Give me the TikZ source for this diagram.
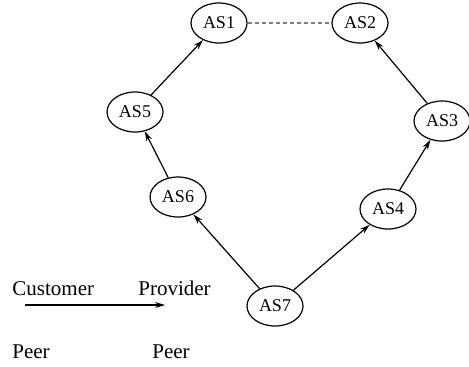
\documentclass[tikz,border=0pt]{standalone}
\usepackage{fontspec}
\setmainfont{Liberation Serif}
\usetikzlibrary{shapes.geometric,arrows.meta}
\tikzset{
    as/.style={ellipse, draw, minimum width=28pt, minimum height=20pt,
    	inner sep=0pt, line width=.6pt, font=\fontsize{9}{10}\selectfont}
}
\tikzset{
    legend/.style={inner sep=0pt, anchor=base west,
    	font=\fontsize{10.5}{12}\selectfont}
}
\tikzset{
    every edge/.append style={line width=.6pt,
    	-{Stealth[length=5pt,width=3pt]}}
}

\begin{document}
\begin{tikzpicture}[x=0.5pt,y=-0.5pt]
	\useasboundingbox (0,0) rectangle (469,366);

	\node[as] (1) at (219,23) {AS1};
	\node[as] (2) at (360,23) {AS2};
	\node[as] (3) at (442,121) {AS3};
	\node[as] (4) at (388,209) {AS4};
	\node[as] (5) at (135,112) {AS5};
	\node[as] (6) at (178,197) {AS6};
	\node[as] (7) at (275,306) {AS7};

	% peering link
	\draw[gray, line width=.6pt, dash pattern=on 2pt off 1.5pt] (1) -- (2);

	\draw (7) edge (6); \draw (6) edge (5); \draw (5) edge (1);
	\draw (7) edge (4); \draw (4) edge (3); \draw (3) edge (2);

	% legend
	\node[legend] (cust) at (12,295) {Customer};
	\node[legend] (prov) at (138,295) {Provider};
	\node[legend] (peer1) at (12,358) {Peer};
	\node[legend] (peer2) at (152,358) {Peer};
	\coordinate (a) at (25,305);
	\coordinate (b) at (165,305);
	\draw (a) edge (b);
\end{tikzpicture}
\end{document}
